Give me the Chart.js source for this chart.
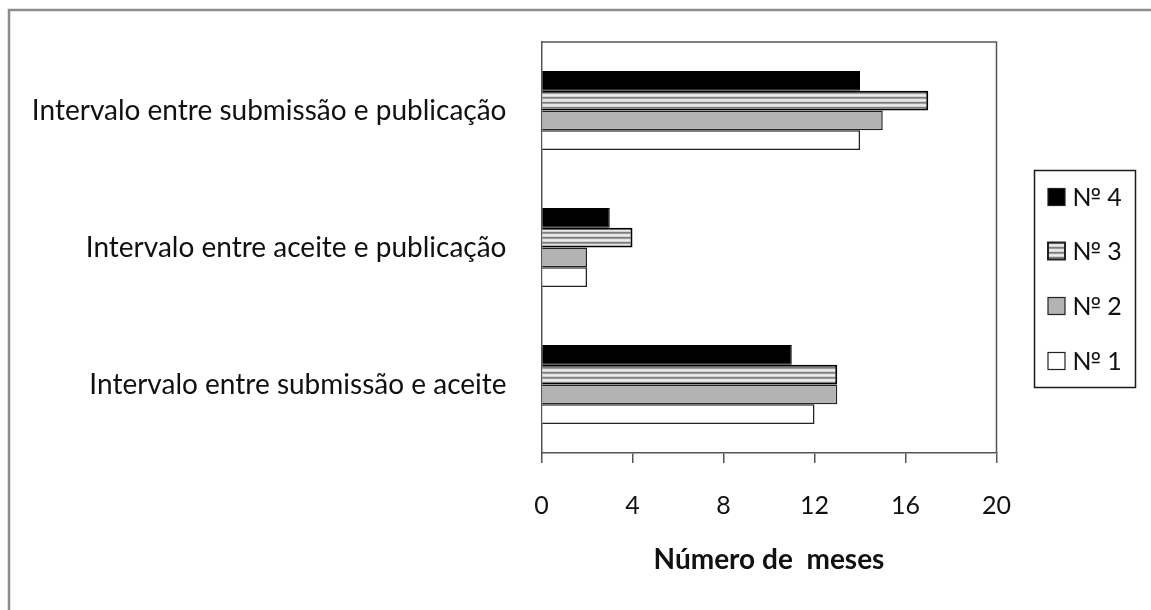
<!DOCTYPE html>
<html>
<head>
<meta charset="utf-8">
<script src="https://cdn.jsdelivr.net/npm/chart.js@4"></script>
<style>
  html, body { margin: 0; padding: 0; background: #ffffff; }
  #wrap { width: 1151px; height: 610px; position: relative; }
</style>
</head>
<body>
<div id="wrap"><canvas id="c" width="1151" height="610"></canvas></div>
<script>
// Categories, top to bottom
const categories = [
  'Intervalo entre submissão e publicação',
  'Intervalo entre aceite e publicação',
  'Intervalo entre submissão e aceite'
];
// Months per issue
const numero4 = [14, 3, 11];
const numero3 = [17, 4, 13];
const numero2 = [15, 2, 13];
const numero1 = [14, 2, 12];
const seriesNames = ['№ 4', '№ 3', '№ 2', '№ 1'];
const xTicks = [0, 4, 8, 12, 16, 20];
const axisTitle = 'Número de  meses';

const FONT = 'Lato, "Open Sans", sans-serif';

// Horizontal stripe fill for the third series
function stripePattern(ctx) {
  const p = document.createElement('canvas');
  p.width = 4; p.height = 5;
  const g = p.getContext('2d');
  const rows = ['#ececec', '#d2d2d2', '#7c7c7c', '#9c9c9c', '#e2e2e2'];
  rows.forEach((c, i) => { g.fillStyle = c; g.fillRect(0, i, 4, 1); });
  return ctx.createPattern(p, 'repeat');
}

const canvas = document.getElementById('c');
const ctx = canvas.getContext('2d');
const stripes = stripePattern(ctx);

const fills = ['#000000', stripes, '#b3b3b3', '#ffffff'];
const borders = ['#000000', '#000000', '#222222', '#222222'];
const borderWidths = [1, 2, 1.5, 1.5];
const values = [numero4, numero3, numero2, numero1];

// Frame around the figure, box around the plot area and the legend
const framePlugin = {
  id: 'frame',
  afterDraw(chart) {
    const c = chart.ctx;
    const a = chart.chartArea;
    c.save();
    // outer figure border (top and left edges)
    c.strokeStyle = '#8c8c8c';
    c.lineWidth = 2.5;
    c.beginPath();
    c.moveTo(9, 620); c.lineTo(9, 10); c.lineTo(1160, 10);
    c.stroke();
    // plot area top and right edges
    c.strokeStyle = '#555555';
    c.lineWidth = 1.5;
    c.beginPath();
    c.moveTo(a.left, a.top); c.lineTo(a.right, a.top); c.lineTo(a.right, a.bottom);
    c.stroke();

    // legend
    const lx = 1034.5, ly = 170.5, lw = 101, lh = 217;
    c.strokeStyle = '#1a1a1a';
    c.lineWidth = 1.5;
    c.strokeRect(lx, ly, lw, lh);
    const rowY = [197, 251, 306, 361];
    c.font = '25px ' + FONT;
    c.textBaseline = 'middle';
    c.textAlign = 'left';
    chart.data.datasets.forEach((ds, i) => {
      const y = rowY[i];
      c.fillStyle = ds.backgroundColor;
      c.fillRect(1048, y - 8.5, 17, 17);
      c.strokeStyle = '#222222';
      c.lineWidth = i === 1 ? 2 : 1.2;
      c.strokeRect(1048, y - 8.5, 17, 17);
      c.fillStyle = '#111111';
      c.fillText(ds.label, 1072, y + 1);
    });
    c.restore();
  }
};

new Chart(canvas, {
  type: 'bar',
  data: {
    labels: categories,
    datasets: seriesNames.map((name, i) => ({
      label: name,
      data: values[i],
      backgroundColor: fills[i],
      borderColor: borders[i],
      borderWidth: borderWidths[i],
      categoryPercentage: 0.575,
      barPercentage: 1.0
    }))
  },
  options: {
    indexAxis: 'y',
    responsive: false,
    animation: false,
    layout: { padding: { top: 42, right: 154.5, left: 0, bottom: 0 } },
    plugins: {
      legend: { display: false },
      tooltip: { enabled: false }
    },
    scales: {
      y: {
        afterFit(scale) {
          scale.width = 541.5;
          scale.paddingTop = 0;
          scale.paddingBottom = 0;
        },
        grid: { display: false, drawTicks: false },
        border: { display: true, color: '#555555', width: 1.5 },
        ticks: {
          padding: 35,
          color: '#111111',
          font: { family: FONT, size: 28 }
        }
      },
      x: {
        min: 0,
        max: 20,
        afterFit(scale) {
          scale.height = 157;
          scale.paddingLeft = 0;
          scale.paddingRight = 0;
        },
        afterBuildTicks(scale) { scale.ticks = xTicks.map(v => ({ value: v })); },
        grid: {
          drawOnChartArea: false,
          drawTicks: true,
          tickLength: 10,
          color: '#555555',
          lineWidth: 1.5
        },
        border: { display: true, color: '#555555', width: 1.5 },
        ticks: {
          padding: 28,
          color: '#111111',
          font: { family: FONT, size: 25 }
        },
        title: {
          display: true,
          text: axisTitle,
          color: '#111111',
          font: { family: FONT, size: 28, weight: 'bold' },
          padding: { top: 0, bottom: 33 }
        }
      }
    }
  },
  plugins: [framePlugin]
});
</script>
</body>
</html>
